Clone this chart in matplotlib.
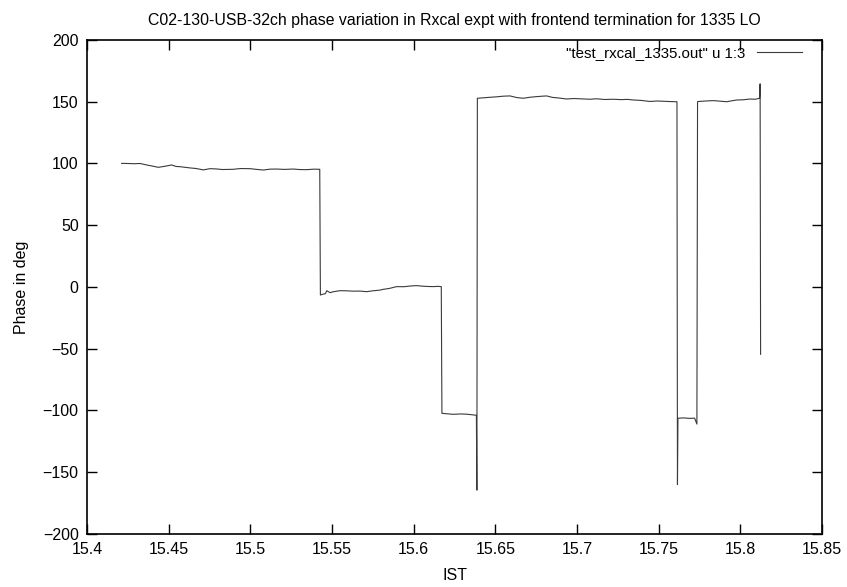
import matplotlib
matplotlib.use('Agg')
import matplotlib.pyplot as plt

plt.rcParams['font.family'] = ['Liberation Sans', 'DejaVu Sans']

# IST (hours) and phase (deg) from test_rxcal_1335.out, column 1 vs column 3
ist = [
    15.4212, 15.4250, 15.4290, 15.4325, 15.4365, 15.4400, 15.4437, 15.4480,
    15.4518, 15.4545, 15.4569, 15.4600, 15.4631, 15.4670, 15.4712, 15.4753,
    15.4790, 15.4830, 15.4896, 15.4940, 15.4998, 15.5040, 15.5080, 15.5120,
    15.5161, 15.5210, 15.5263, 15.5300, 15.5345, 15.5390, 15.5425,
    15.5429, 15.5440, 15.5460, 15.5468, 15.5488, 15.5510, 15.5549, 15.5590,
    15.5630, 15.5670, 15.5712, 15.5750, 15.5790, 15.5814, 15.5850, 15.5896,
    15.5940, 15.5980, 15.6018, 15.6060, 15.6090, 15.6120, 15.6150, 15.6169,
    15.6173, 15.6200, 15.6243, 15.6290, 15.6325, 15.6360, 15.6384,
    15.6387, 15.6390,
    15.6420, 15.6467, 15.6510, 15.6550, 15.6590, 15.6630, 15.6671, 15.6710,
    15.6750, 15.6790, 15.6814, 15.6850, 15.6890, 15.6937, 15.6980, 15.7030,
    15.7080, 15.7120, 15.7170, 15.7222, 15.7270, 15.7310, 15.7345, 15.7390,
    15.7447, 15.7490, 15.7540, 15.7580, 15.7612,
    15.7615, 15.7618, 15.7650, 15.7690, 15.7720, 15.7734,
    15.7738, 15.7743, 15.7790, 15.7835, 15.7880, 15.7917, 15.7950, 15.7978,
    15.8020, 15.8059, 15.8090, 15.8118,
    15.8121, 15.8124,
]
phase = [
    100.1, 100.0, 99.8, 100.0, 98.8, 97.9, 96.9, 97.8,
    98.8, 97.6, 97.4, 96.9, 96.4, 95.9, 94.8, 95.8,
    95.6, 95.1, 95.3, 95.9, 95.8, 95.2, 94.7, 95.4,
    95.5, 95.2, 95.5, 95.1, 95.0, 95.4, 95.3,
    -6.5, -6.0, -5.4, -3.0, -4.6, -3.8, -3.0, -3.1,
    -3.4, -3.3, -3.8, -3.1, -2.6, -1.9, -1.2, 0.3,
    0.2, 0.8, 1.1, 0.6, 0.4, 0.3, 0.5, 0.3,
    -102.3, -102.6, -103.1, -102.8, -103.0, -103.5, -103.9,
    -164.5, 152.8,
    153.1, 153.6, 154.0, 154.5, 154.7, 153.4, 152.8, 153.6,
    154.1, 154.5, 154.7, 153.5, 153.0, 152.2, 152.6, 152.3,
    152.0, 152.4, 151.8, 152.0, 151.7, 151.9, 151.4, 151.1,
    150.2, 150.6, 150.3, 150.1, 150.0,
    -160.0, -106.3, -106.0, -106.4, -106.2, -111.0,
    150.0, 150.2, 150.6, 150.9, 150.4, 150.0, 150.8, 151.4,
    151.6, 152.2, 152.0, 152.8,
    164.5, -54.5,
]

fig = plt.figure(figsize=(8.47, 5.87), dpi=100)
ax = fig.add_axes([0.1027, 0.0903, 0.8678, 0.8416])

ax.plot(ist, phase, color='#3a3a3a', linewidth=0.8,
        label='"test_rxcal_1335.out" u 1:3')

ax.set_xlim(15.4, 15.85)
ax.set_ylim(-200, 200)
ax.set_xticks([15.4, 15.45, 15.5, 15.55, 15.6, 15.65, 15.7, 15.75, 15.8, 15.85])
ax.set_xticklabels(['15.4', '15.45', '15.5', '15.55', '15.6', '15.65',
                    '15.7', '15.75', '15.8', '15.85'])
ax.set_yticks(range(-200, 201, 50))

# gnuplot style: ticks inside, mirrored on all sides
ax.tick_params(direction='in', length=7, width=1, top=True, right=True,
               labelsize=11.5, pad=6)
for s in ax.spines.values():
    s.set_linewidth(1.2)

ax.set_title('C02-130-USB-32ch phase variation in Rxcal expt with frontend termination for 1335 LO',
             fontsize=11.4, pad=11)
ax.set_xlabel('IST', fontsize=11.5, labelpad=8)
ax.set_ylabel('Phase in deg', fontsize=11.5, labelpad=10)

ax.legend(loc='upper right', bbox_to_anchor=(0.981, 1.0), frameon=False,
          markerfirst=False, fontsize=10.8, handlelength=3.0,
          borderaxespad=0, handletextpad=0.8)

fig.savefig('out.png', dpi=100)
